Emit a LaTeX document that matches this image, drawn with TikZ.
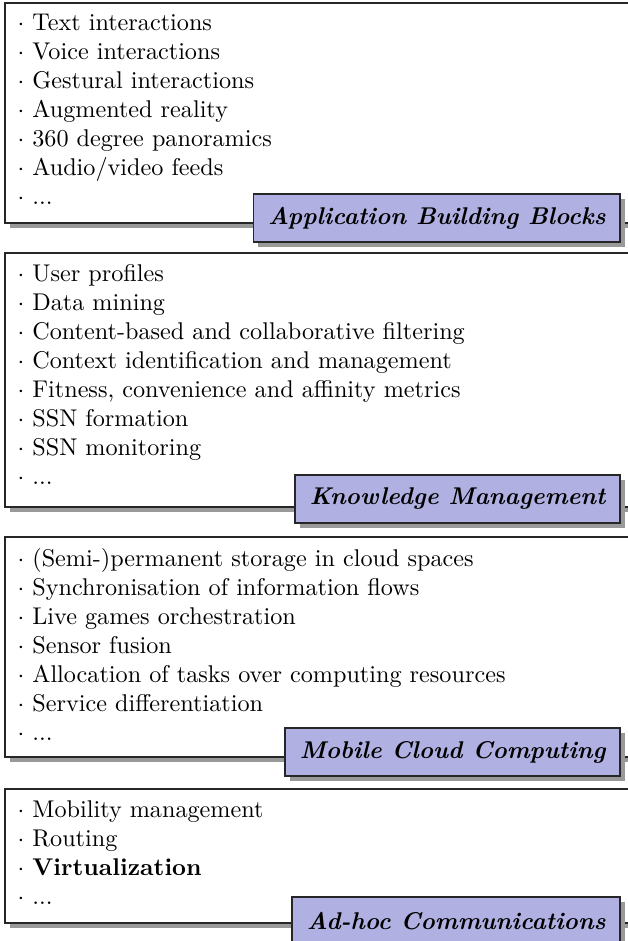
\documentclass[tikz,border=0pt]{standalone}
\usetikzlibrary{shadows}
\definecolor{labelblue}{RGB}{176,176,226}
\begin{document}
\begin{tikzpicture}[
        x=0.4133pt, y=-0.4133pt,
        panel/.style={draw=black!85, thick, fill=white, drop shadow={shadow xshift=2pt, shadow yshift=-2pt, fill=black!40, opacity=1}},
        items/.style={anchor=north west, align=left, inner xsep=5pt, inner ysep=4.5pt},
        title/.style={rectangle, anchor=east, draw=black!85, thick, fill=labelblue, minimum height=20pt, inner xsep=6pt, font=\bfseries\itshape, drop shadow={shadow xshift=2pt, shadow yshift=-2pt, fill=black!40, opacity=1}},
      ]
      \clip (0,0) rectangle (628,941);

      %Frames
      \draw[panel] (5,3)   rectangle (680,223);
      \draw[panel] (5,253) rectangle (680,507);
      \draw[panel] (5,537) rectangle (680,757);
      \draw[panel] (5,789) rectangle (680,923);

      %Items
      \node[items] (abbtext) at (5,3) {$\cdot$ Text interactions\\ $\cdot$ Voice interactions\\ $\cdot$ Gestural interactions\\ $\cdot$ Augmented reality\\ $\cdot$ 360 degree panoramics\\ $\cdot$ Audio/video feeds\\ $\cdot$ ...};
      \node[items] (kmtext) at (5,253) {$\cdot$ User profiles\\ $\cdot$ Data mining\\ $\cdot$ Content-based and collaborative filtering\\ $\cdot$ Context identification and management\\ $\cdot$ Fitness, convenience and affinity metrics\\ $\cdot$ SSN formation\\ $\cdot$ SSN monitoring\\ $\cdot$ ...};
      \node[items] (mcctext) at (5,537) {$\cdot$ (Semi-)permanent storage in cloud spaces\\ $\cdot$ Synchronisation of information flows\\ $\cdot$ Live games orchestration\\ $\cdot$ Sensor fusion\\ $\cdot$ Allocation of tasks over computing resources\\ $\cdot$ Service differentiation\\ $\cdot$ ...};
      \node[items] (ahctext) at (5,789) {$\cdot$ Mobility management\\ $\cdot$ Routing\\ $\cdot$ \textbf{Virtualization}\\ $\cdot$ ...};

      %Labels
      \node[title] (abblabel) at (621,218) {Application Building Blocks};
      \node[title] (kmlabel)  at (621,499) {Knowledge Management};
      \node[title] (mcclabel) at (621,752) {Mobile Cloud Computing};
      \node[title] (ahclabel) at (621,921) {Ad-hoc Communications};
    \end{tikzpicture}
\end{document}
